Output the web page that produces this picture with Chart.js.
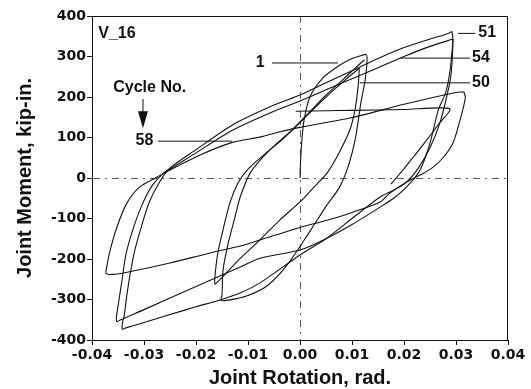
<!DOCTYPE html>
<html>
<head>
<meta charset="utf-8">
<script src="https://cdn.jsdelivr.net/npm/chart.js@4"></script>
<style>
  html, body { margin: 0; padding: 0; background: #fff; }
  #wrap { width: 531px; height: 389px; }
</style>
</head>
<body>
<div id="wrap"><canvas id="chart" width="531" height="389"></canvas></div>
<script>
// Joint rotation (rad) and joint moment (kip-in.), one pair per cycle
const cyc1Rot = [0, 0.0001, 0.0004, 0.0008, 0.0019, 0.0044, 0.0071, 0.0093, 0.0112, 0.0127, 0.0129, 0.0125, 0.0117, 0.0107, 0.0093, 0.0075, 0.005, 0.002, -0.0025, -0.0063, -0.0100, -0.0135, -0.0152, -0.0150, -0.0148, -0.0138, -0.0125, -0.0115, -0.0096, -0.0071, -0.0045, -0.0015, 0.002, 0.005, 0.008, 0.0105, 0.0124];
const cyc1Mom = [0, 40, 100, 145, 200, 247, 274, 291, 300, 305, 290, 240, 185, 101, 30, -25, -70, -130, -215, -266, -290, -301, -302, -290, -227, -161, -96, -47, 12, 52, 85, 119, 165, 205, 240, 270, 292];

const cyc50Rot = [0.0114, 0.0112, 0.0106, 0.0096, 0.0075, 0.0052, 0.0025, 0.0, -0.004, -0.0077, -0.012, -0.0163, -0.0164, -0.0158, -0.0148, -0.0135, -0.0119, -0.0100, -0.0065, -0.0030, 0.0010, 0.0050, 0.0085, 0.0114];
const cyc50Mom = [271, 230, 170, 119, 62, 12, -25, -59, -105, -153, -205, -262, -250, -185, -128, -62, -12, 22, 62, 100, 150, 200, 240, 271];

const cyc51Rot = [0.0292, 0.0294, 0.0293, 0.0290, 0.0282, 0.0270, 0.0252, 0.0228, 0.0205, 0.0180, 0.0154, 0.0100, 0.0050, 0.0, -0.0077, -0.0115, -0.0154, -0.0200, -0.0250, -0.0300, -0.0335, -0.0342, -0.0341, -0.0338, -0.0333, -0.0327, -0.0318, -0.0305, -0.0290, -0.0270, -0.0250, -0.0200, -0.0130, -0.0050, 0.0, 0.0050, 0.0100, 0.0150, 0.0200, 0.0250, 0.0285, 0.0292];
const cyc51Mom = [362, 345, 300, 250, 200, 140, 80, 25, -10, -30, -47, -100, -150, -190, -259, -284, -301, -318, -337, -357, -370, -373, -355, -340, -290, -240, -180, -120, -60, -10, 25, 70, 131, 180, 205, 235, 265, 295, 322, 343, 357, 362];

const cyc54Rot = [0.0294, 0.0293, 0.0288, 0.0280, 0.0266, 0.0250, 0.0231, 0.0205, 0.0180, 0.0154, 0.0100, 0.0050, 0.0, -0.0077, -0.0115, -0.0200, -0.0300, -0.0345, -0.0352, -0.0353, -0.0348, -0.0342, -0.0335, -0.0322, -0.0305, -0.0285, -0.0260, -0.0250, -0.0200, -0.0130, -0.0050, 0.0, 0.0050, 0.0100, 0.0150, 0.0200, 0.0250, 0.0294];
const cyc54Mom = [343, 320, 260, 210, 168, 86, 20, -22, -50, -72, -115, -150, -178, -198, -220, -268, -325, -350, -355, -345, -300, -250, -190, -130, -70, -20, 15, 22, 62, 118, 165, 190, 218, 245, 272, 300, 325, 343];

const cyc58Rot = [0.0315, 0.0318, 0.0316, 0.0313, 0.0305, 0.0294, 0.0275, 0.0256, 0.0235, 0.0212, 0.0173, 0.0154, 0.0100, 0.0050, 0.0, -0.0077, -0.0115, -0.0173, -0.0250, -0.0330, -0.0360, -0.0373, -0.0372, -0.0365, -0.0352, -0.0333, -0.0308, -0.0275, -0.0250, -0.0192, -0.0130, -0.0077, -0.0038, 0.0, 0.0096, 0.0200, 0.0295, 0.0315];
const cyc58Mom = [213, 200, 185, 168, 130, 86, 50, 27, 10, -5, -37, -59, -85, -105, -122, -153, -168, -185, -210, -232, -238, -236, -222, -178, -121, -62, -22, 2, 20, 57, 88, 101, 114, 125, 148, 182, 210, 213];

const lastRot = [-0.0008, 0.0050, 0.0100, 0.0200, 0.0288, 0.0266, 0.0244, 0.0220, 0.0195, 0.0175];
const lastMom = [165, 166, 167, 169, 171, 132, 94, 55, 15, -15];

const xTicks = [-0.04, -0.03, -0.02, -0.01, 0.00, 0.01, 0.02, 0.03, 0.04];
const yTicks = [-400, -300, -200, -100, 0, 100, 200, 300, 400];

const FONT = '"Liberation Sans", Arial, Helvetica, sans-serif';

function pts(rot, mom) {
  return rot.map((r, i) => ({ x: r, y: mom[i] }));
}

function curve(rot, mom) {
  return {
    data: pts(rot, mom),
    showLine: true,
    borderColor: '#111',
    borderWidth: 1.1,
    pointRadius: 0,
    tension: 0.25,
    fill: false
  };
}

// frame, zero lines are from the grid; labels and leaders drawn here
const notes = {
  id: 'notes',
  afterDraw(chart) {
    const { ctx, chartArea: a, scales: { x, y } } = chart;
    ctx.save();
    ctx.strokeStyle = '#111';
    ctx.lineWidth = 1;
    ctx.beginPath();
    ctx.moveTo(a.left, a.top + 0.5);
    ctx.lineTo(a.right - 0.5, a.top + 0.5);
    ctx.lineTo(a.right - 0.5, a.bottom);
    ctx.stroke();

    ctx.fillStyle = '#111';
    ctx.font = 'bold 16px ' + FONT;
    ctx.textBaseline = 'middle';

    const lead = (r1, r2, m) => {
      ctx.beginPath();
      ctx.moveTo(x.getPixelForValue(r1), y.getPixelForValue(m));
      ctx.lineTo(x.getPixelForValue(r2), y.getPixelForValue(m));
      ctx.stroke();
    };
    const text = (t, r, m, align) => {
      ctx.textAlign = align;
      ctx.fillText(t, x.getPixelForValue(r), y.getPixelForValue(m));
    };

    text('V_16', -0.0388, 357, 'left');

    text('1', -0.0068, 286, 'right');
    lead(-0.0054, 0.0073, 284);

    text('51', 0.0343, 358, 'left');
    lead(0.0304, 0.0337, 357);
    text('54', 0.0331, 298, 'left');
    lead(0.0192, 0.0327, 296);
    text('50', 0.0331, 236, 'left');
    lead(0.0115, 0.0327, 235);

    text('Cycle No.', -0.0289, 222, 'center');
    text('58', -0.0282, 92, 'right');
    lead(-0.0273, -0.0131, 91);

    // arrow
    const ax = x.getPixelForValue(-0.0302);
    ctx.beginPath();
    ctx.moveTo(ax, y.getPixelForValue(195));
    ctx.lineTo(ax, y.getPixelForValue(160));
    ctx.stroke();
    ctx.beginPath();
    ctx.moveTo(ax - 5, y.getPixelForValue(165));
    ctx.lineTo(ax + 5, y.getPixelForValue(165));
    ctx.lineTo(ax, y.getPixelForValue(123));
    ctx.closePath();
    ctx.fill();
    ctx.restore();
  }
};

const zeroGrid = (ctx) => (ctx.tick && Math.abs(ctx.tick.value) < 1e-9) ? '#555' : 'rgba(0,0,0,0)';

new Chart(document.getElementById('chart'), {
  type: 'scatter',
  data: {
    datasets: [
      curve(cyc1Rot, cyc1Mom),
      curve(cyc50Rot, cyc50Mom),
      curve(cyc51Rot, cyc51Mom),
      curve(cyc54Rot, cyc54Mom),
      curve(cyc58Rot, cyc58Mom),
      curve(lastRot, lastMom)
    ]
  },
  options: {
    responsive: false,
    animation: false,
    layout: { padding: { left: 0, right: 23, top: 16, bottom: 0 } },
    plugins: { legend: { display: false }, tooltip: { enabled: false } },
    scales: {
      x: {
        type: 'linear',
        min: -0.04,
        max: 0.04,
        afterFit: (s) => { s.height = 49; },
        afterBuildTicks: (s) => { s.ticks = xTicks.map(v => ({ value: v })); },
        grid: { color: zeroGrid, lineWidth: 1, tickColor: '#111', tickLength: 5 },
        border: { color: '#111', width: 1, dash: [7, 5, 2, 5] },
        ticks: {
          color: '#111',
          padding: 2,
          maxRotation: 0,
          font: { family: '"DejaVu Sans", sans-serif', weight: 'bold', size: 14 },
          callback: (v) => Math.abs(v) < 1e-9 ? '0.00' : Number(v).toFixed(2)
        },
        title: {
          display: true,
          text: 'Joint Rotation, rad.',
          color: '#111',
          font: { family: FONT, weight: 'bold', size: 20, lineHeight: 1 },
          padding: { top: 0, bottom: 1 }
        }
      },
      y: {
        type: 'linear',
        min: -400,
        max: 400,
        afterFit: (s) => { s.width = 92; },
        afterBuildTicks: (s) => { s.ticks = yTicks.map(v => ({ value: v })); },
        grid: { color: zeroGrid, lineWidth: 1, tickColor: '#111', tickLength: 5 },
        border: { color: '#111', width: 1, dash: [7, 5, 2, 5] },
        ticks: {
          color: '#111',
          padding: 1,
          font: { family: '"DejaVu Sans", sans-serif', weight: 'bold', size: 14 },
          callback: (v) => String(Math.round(v))
        },
        title: {
          display: true,
          text: 'Joint Moment, kip-in.',
          color: '#111',
          font: { family: FONT, weight: 'bold', size: 20, lineHeight: 1 },
          padding: { top: 15, bottom: 0 }
        }
      }
    }
  },
  plugins: [notes]
});
</script>
</body>
</html>
